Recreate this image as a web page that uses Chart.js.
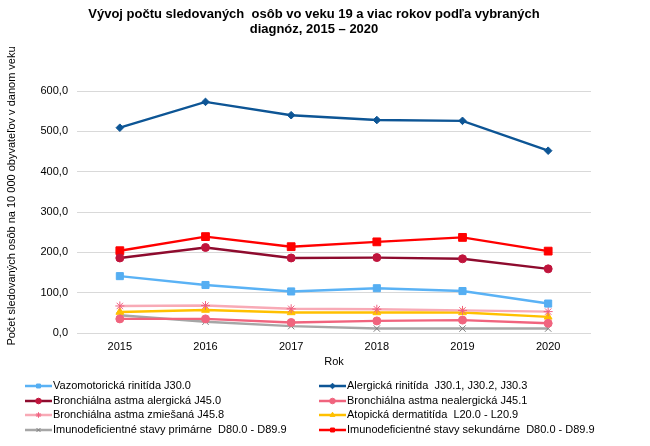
<!DOCTYPE html>
<html>
<head>
<meta charset="utf-8">
<script src="https://cdn.jsdelivr.net/npm/chart.js@4.4.1/dist/chart.umd.min.js"></script>
<style>
  html, body { margin: 0; padding: 0; background: #fff; }
  #wrap { width: 650px; height: 446px; }
</style>
</head>
<body>
<div id="wrap"><canvas id="myChart" width="650" height="446"></canvas></div>
<script>
var roky = ["2015", "2016", "2017", "2018", "2019", "2020"];

var vazomotoricka = [141, 119, 103, 111, 104, 73];
var alergickaRinitida = [509, 573, 540, 528, 526, 452];
var astmaAlergicka = [186, 212, 186, 187, 184, 159];
var astmaNealergicka = [35, 35, 26, 30, 32, 24];
var astmaZmiesana = [67, 68, 60, 59, 56, 53];
var atopicka = [52, 57, 51, 51, 51, 40];
var imunoPrimarne = [44, 28, 17, 11, 11, 11];
var imunoSekundarne = [204, 239, 214, 226, 237, 203];

var titulok = ["Vývoj počtu sledovaných  osôb vo veku 19 a viac rokov podľa vybraných", "diagnóz, 2015 – 2020"];
var osY = "Počet sledovaných osôb na 10 000 obyvateľov v danom veku";

var font = "'Liberation Sans', Arial, sans-serif";

function serie(label, data, line, marker, style, radius) {
  return {
    label: label,
    data: data,
    borderColor: line,
    backgroundColor: marker,
    pointBackgroundColor: marker,
    pointBorderColor: marker,
    pointStyle: style,
    pointRadius: radius,
    pointHoverRadius: radius,
    pointBorderWidth: 1,
    borderWidth: 2.4,
    fill: false,
    tension: 0
  };
}

// title, y title and the two column legend
var extras = {
  id: "extras",
  afterDraw: function(chart) {
    var ctx = chart.ctx;
    ctx.save();
    ctx.fillStyle = "#000";
    ctx.font = "bold 13px " + font;
    ctx.textAlign = "center";
    ctx.textBaseline = "middle";
    ctx.fillText(titulok[0], 314, 14);
    ctx.fillText(titulok[1], 314, 29);

    ctx.font = "11px " + font;
    ctx.translate(12, 196);
    ctx.rotate(-Math.PI / 2);
    ctx.fillText(osY, 0, 0);
    ctx.restore();

    var rows = [386, 401, 415, 430];
    chart.data.datasets.forEach(function(ds, i) {
      var col = i % 2, row = Math.floor(i / 2);
      var x0 = col === 0 ? 25 : 319;
      var y = rows[row];
      ctx.save();
      ctx.strokeStyle = ds.borderColor;
      ctx.lineWidth = 2.5;
      ctx.beginPath();
      ctx.moveTo(x0, y);
      ctx.lineTo(x0 + 27, y);
      ctx.stroke();
      if (Chart.helpers && Chart.helpers.drawPoint) {
        ctx.fillStyle = ds.pointBackgroundColor;
        ctx.strokeStyle = ds.pointBorderColor;
        ctx.lineWidth = 1;
        Chart.helpers.drawPoint(ctx, { pointStyle: ds.pointStyle, radius: 2.8, rotation: 0, borderWidth: 1 }, x0 + 13.5, y);
      }
      ctx.fillStyle = "#000";
      ctx.font = "11px " + font;
      ctx.textAlign = "left";
      ctx.textBaseline = "middle";
      ctx.fillText(ds.label, x0 + 28, y);
      ctx.restore();
    });
  }
};

new Chart("myChart", {
  type: "line",
  data: {
    labels: roky,
    datasets: [
      serie("Vazomotorická rinitída J30.0", vazomotoricka, "#5AB2F5", "#55AEF2", "rect", 5),
      serie("Alergická rinitída  J30.1, J30.2, J30.3", alergickaRinitida, "#0D5595", "#0D5595", "rectRot", 3.8),
      serie("Bronchiálna astma alergická J45.0", astmaAlergicka, "#8E0B2E", "#C0143C", "circle", 4),
      serie("Bronchiálna astma nealergická J45.1", astmaNealergicka, "#F0647E", "#F0647E", "circle", 4),
      serie("Bronchiálna astma zmiešaná J45.8", astmaZmiesana, "#F8AAB6", "#F06080", "star", 4.5),
      serie("Atopická dermatitída  L20.0 - L20.9", atopicka, "#FFC000", "#FFC000", "triangle", 4.5),
      serie("Imunodeficientné stavy primárne  D80.0 - D89.9", imunoPrimarne, "#A6A6A6", "#7F7F7F", "crossRot", 4.5),
      serie("Imunodeficientné stavy sekundárne  D80.0 - D89.9", imunoSekundarne, "#FF0000", "#FF0000", "rect", 5.5)
    ]
  },
  options: {
    responsive: false,
    animation: false,
    layout: { padding: { left: 0, right: 59, top: 91, bottom: 73 } },
    plugins: {
      legend: { display: false },
      tooltip: { enabled: false },
      title: { display: false }
    },
    scales: {
      x: {
        offset: true,
        grid: { display: false, drawTicks: false },
        border: { display: false },
        ticks: { color: "#000", font: { family: font, size: 11 }, padding: 7 },
        title: { display: true, text: "Rok", color: "#000", font: { family: font, size: 11 }, padding: { top: 4, bottom: 4 } },
        afterFit: function(s) { s.height = 40; }
      },
      y: {
        min: 0,
        max: 600,
        grid: { color: "#D9D9D9", lineWidth: 1, drawTicks: false },
        border: { display: false },
        ticks: {
          stepSize: 100,
          color: "#000",
          font: { family: font, size: 11 },
          padding: 9,
          callback: function(v) { return v.toFixed(1).replace(".", ","); }
        },
        afterFit: function(s) { s.width = 77; }
      }
    }
  },
  plugins: [extras]
});
</script>
</body>
</html>
